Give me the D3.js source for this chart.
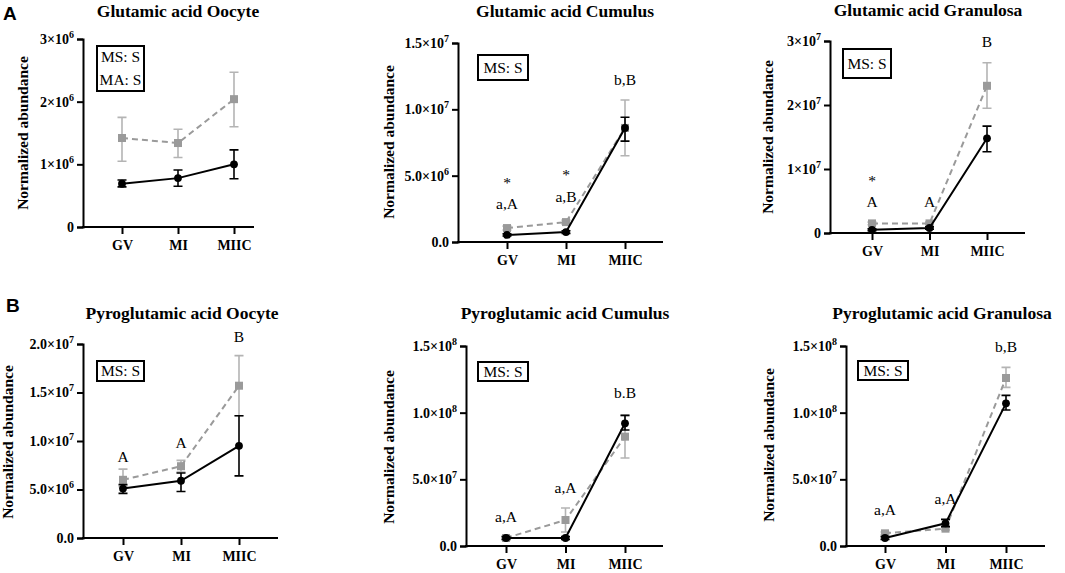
<!DOCTYPE html>
<html lang="en">
<head>
<meta charset="UTF-8">
<title>Glutamic and pyroglutamic acid abundance</title>
<script src="https://d3js.org/d3.v7.min.js"></script>
<style>
    body { margin: 0; background: #fff; }
    svg text { font-family: "Liberation Serif", "DejaVu Serif", serif; fill: #000; }
    .title { font-size: 17.5px; font-weight: bold; text-anchor: middle; }
    .tick text { font-size: 14px; font-weight: bold; }
    .ylab { font-size: 15.5px; font-weight: bold; text-anchor: middle; }
    .note { font-size: 15.5px; text-anchor: middle; }
    .legend-text { font-size: 15.5px; text-anchor: middle; }
    svg text.letter { font-family: "Liberation Sans", Arial, sans-serif; font-size: 19px; font-weight: bold; }
</style>
</head>
<body>
<svg id="svg" width="1065" height="573"></svg>
<script>
    const stages = ["GV", "MI", "MIIC"];

    // Glutamic acid Oocyte
    const gluOocyteBlack = [0.69e6, 0.78e6, 1.00e6];
    const gluOocyteBlackErr = [[0.64e6, 0.75e6], [0.65e6, 0.91e6], [0.77e6, 1.23e6]];
    const gluOocyteGray = [1.42e6, 1.34e6, 2.04e6];
    const gluOocyteGrayErr = [[1.05e6, 1.75e6], [1.11e6, 1.56e6], [1.60e6, 2.47e6]];
    const gluOocyteTicks = [0, 1e6, 2e6, 3e6];
    const gluOocyteTickLabels = ["0", "1×10^6", "2×10^6", "3×10^6"];
    const gluOocyteNotes = [];
    const gluOocyteLegend = ["MS: S", "MA: S"];

    // Glutamic acid Cumulus
    const gluCumulusBlack = [0.53e6, 0.75e6, 8.6e6];
    const gluCumulusBlackErr = [[0.45e6, 0.61e6], [0.65e6, 0.85e6], [7.6e6, 9.4e6]];
    const gluCumulusGray = [1.05e6, 1.5e6, 8.6e6];
    const gluCumulusGrayErr = [[0.9e6, 1.2e6], [1.35e6, 1.65e6], [6.5e6, 10.7e6]];
    const gluCumulusTicks = [0, 5e6, 1e7, 1.5e7];
    const gluCumulusTickLabels = ["0.0", "5.0×10^6", "1.0×10^7", "1.5×10^7"];
    const gluCumulusNotes = [["GV", 4.67e6, "*"], ["GV", 2.86e6, "a,A"], ["MI", 5.28e6, "*"], ["MI", 3.39e6, "a,B"], ["MIIC", 12.2e6, "b,B"]];
    const gluCumulusLegend = ["MS: S"];

    // Glutamic acid Granulosa
    const gluGranulosaBlack = [0.5e6, 0.78e6, 1.48e7];
    const gluGranulosaBlackErr = [[0.35e6, 0.65e6], [0.6e6, 0.95e6], [1.27e7, 1.67e7]];
    const gluGranulosaGray = [1.5e6, 1.5e6, 2.3e7];
    const gluGranulosaGrayErr = [[1.3e6, 1.7e6], [1.3e6, 1.7e6], [1.95e7, 2.66e7]];
    const gluGranulosaTicks = [0, 1e7, 2e7, 3e7];
    const gluGranulosaTickLabels = ["0", "1×10^7", "2×10^7", "3×10^7"];
    const gluGranulosaNotes = [["GV", 8.6e6, "*"], ["GV", 4.84e6, "A"], ["MI", 4.84e6, "A"], ["MIIC", 2.98e7, "B"]];
    const gluGranulosaLegend = ["MS: S"];

    // Pyroglutamic acid Oocyte
    const pyroOocyteBlack = [5.1e6, 5.9e6, 9.5e6];
    const pyroOocyteBlackErr = [[4.6e6, 5.5e6], [4.8e6, 6.7e6], [6.4e6, 12.6e6]];
    const pyroOocyteGray = [6.0e6, 7.4e6, 15.7e6];
    const pyroOocyteGrayErr = [[5.3e6, 7.1e6], [6.8e6, 8.0e6], [12.6e6, 18.8e6]];
    const pyroOocyteTicks = [0, 5e6, 1e7, 1.5e7, 2e7];
    const pyroOocyteTickLabels = ["0.0", "5.0×10^6", "1.0×10^7", "1.5×10^7", "2.0×10^7"];
    const pyroOocyteNotes = [["GV", 8.35e6, "A"], ["MI", 9.8e6, "A"], ["MIIC", 2.07e7, "B"]];
    const pyroOocyteLegend = ["MS: S"];

    // Pyroglutamic acid Cumulus
    const pyroCumulusBlack = [6e6, 6e6, 9.2e7];
    const pyroCumulusBlackErr = [[5e6, 7e6], [5e6, 7e6], [8.7e7, 9.8e7]];
    const pyroCumulusGray = [6e6, 1.95e7, 8.2e7];
    const pyroCumulusGrayErr = [[5e6, 7e6], [1.05e7, 2.85e7], [6.6e7, 9.8e7]];
    const pyroCumulusTicks = [0, 5e7, 1e8, 1.5e8];
    const pyroCumulusTickLabels = ["0.0", "5.0×10^7", "1.0×10^8", "1.5×10^8"];
    const pyroCumulusNotes = [["GV", 2.18e7, "a,A"], ["MI", 4.36e7, "a,A"], ["MIIC", 1.15e8, "b.B"]];
    const pyroCumulusLegend = ["MS: S"];

    // Pyroglutamic acid Granulosa
    const pyroGranulosaBlack = [6e6, 1.7e7, 1.07e8];
    const pyroGranulosaBlackErr = [[5e6, 7e6], [1.45e7, 2.0e7], [1.02e8, 1.13e8]];
    const pyroGranulosaGray = [9.5e6, 1.3e7, 1.26e8];
    const pyroGranulosaGrayErr = [[8.5e6, 1.05e7], [1.2e7, 1.4e7], [1.19e8, 1.34e8]];
    const pyroGranulosaTicks = [0, 5e7, 1e8, 1.5e8];
    const pyroGranulosaTickLabels = ["0.0", "5.0×10^7", "1.0×10^8", "1.5×10^8"];
    const pyroGranulosaNotes = [["GV", 2.7e7, "a,A"], ["MI", 3.53e7, "a,A"], ["MIIC", 1.49e8, "b,B"]];
    const pyroGranulosaLegend = ["MS: S"];

    // panel frames (pixels): axis left/right, y at 0 and at top tick, first/last stage x
    const panels = [
        { title: "Glutamic acid Oocyte", black: gluOocyteBlack, blackErr: gluOocyteBlackErr, gray: gluOocyteGray, grayErr: gluOocyteGrayErr,
          ticks: gluOocyteTicks, labels: gluOocyteTickLabels, notes: gluOocyteNotes, legend: gluOocyteLegend,
          left: 83, right: 254, y0: 227, yTop: 39, xFirst: 122, xLast: 234, titleX: 178, titleY: 17,
          labX: 23, labY: 133, box: [97, 46, 47, 45] },
        { title: "Glutamic acid Cumulus", black: gluCumulusBlack, blackErr: gluCumulusBlackErr, gray: gluCumulusGray, grayErr: gluCumulusGrayErr,
          ticks: gluCumulusTicks, labels: gluCumulusTickLabels, notes: gluCumulusNotes, legend: gluCumulusLegend,
          left: 458, right: 663, y0: 242, yTop: 43, xFirst: 507, xLast: 625, titleX: 565, titleY: 17,
          labX: 389, labY: 142, box: [478, 55, 50, 25] },
        { title: "Glutamic acid Granulosa", black: gluGranulosaBlack, blackErr: gluGranulosaBlackErr, gray: gluGranulosaGray, grayErr: gluGranulosaGrayErr,
          ticks: gluGranulosaTicks, labels: gluGranulosaTickLabels, notes: gluGranulosaNotes, legend: gluGranulosaLegend,
          left: 830, right: 1025, y0: 233, yTop: 41, xFirst: 872, xLast: 987, titleX: 928, titleY: 16,
          labX: 768, labY: 137, box: [843, 49, 48, 29] },
        { title: "Pyroglutamic acid Oocyte", black: pyroOocyteBlack, blackErr: pyroOocyteBlackErr, gray: pyroOocyteGray, grayErr: pyroOocyteGrayErr,
          ticks: pyroOocyteTicks, labels: pyroOocyteTickLabels, notes: pyroOocyteNotes, legend: pyroOocyteLegend,
          left: 83, right: 278, y0: 538, yTop: 344, xFirst: 123, xLast: 239, titleX: 182, titleY: 319,
          labX: 8, labY: 442, box: [97, 361, 47, 20] },
        { title: "Pyroglutamic acid Cumulus", black: pyroCumulusBlack, blackErr: pyroCumulusBlackErr, gray: pyroCumulusGray, grayErr: pyroCumulusGrayErr,
          ticks: pyroCumulusTicks, labels: pyroCumulusTickLabels, notes: pyroCumulusNotes, legend: pyroCumulusLegend,
          left: 466, right: 663, y0: 546, yTop: 346, xFirst: 506, xLast: 625, titleX: 565, titleY: 319,
          labX: 389, labY: 447, box: [478, 362, 50, 19] },
        { title: "Pyroglutamic acid Granulosa", black: pyroGranulosaBlack, blackErr: pyroGranulosaBlackErr, gray: pyroGranulosaGray, grayErr: pyroGranulosaGrayErr,
          ticks: pyroGranulosaTicks, labels: pyroGranulosaTickLabels, notes: pyroGranulosaNotes, legend: pyroGranulosaLegend,
          left: 846, right: 1045, y0: 546, yTop: 346, xFirst: 885, xLast: 1006, titleX: 942, titleY: 319,
          labX: 769, labY: 445, box: [858, 361, 50, 19] }
    ];

    const grayColor = "#9a9a9a";
    const grayErrColor = "#b4b4b4";

    const svg = d3.select("#svg");

    svg.append("text").attr("class", "letter").attr("x", 3).attr("y", 20).text("A");
    svg.append("text").attr("class", "letter").attr("x", 6).attr("y", 312).text("B");

    // write "1×10^6" as text with a superscript
    const setSuper = (sel, labels) => {
        sel.each(function (d, i) {
            const t = d3.select(this);
            const parts = labels[i].split("^");
            t.text(null);
            t.append("tspan").text(parts[0]);
            if (parts[1]) t.append("tspan").attr("dy", -6).attr("font-size", "10px").text(parts[1]);
        });
    };

    panels.forEach(p => {
        const g = svg.append("g");
        const x = d3.scalePoint().domain(stages).range([p.xFirst, p.xLast]);
        const y = d3.scaleLinear().domain([0, d3.max(p.ticks)]).range([p.y0, p.yTop]);

        // y axis
        const yAxis = g.append("g")
            .attr("transform", `translate(${p.left},0)`)
            .call(d3.axisLeft(y).tickValues(p.ticks).tickSizeOuter(0).tickSize(6).tickPadding(3)
                .tickFormat((d, i) => p.labels[i]));
        yAxis.selectAll(".tick text").call(setSuper, p.labels);

        // x axis (domain drawn separately to span the full frame)
        const xAxis = g.append("g")
            .attr("transform", `translate(0,${p.y0})`)
            .call(d3.axisBottom(x).tickSize(7).tickPadding(6));
        xAxis.select(".domain").remove();
        xAxis.append("line")
            .attr("x1", p.left - 1).attr("x2", p.right)
            .attr("stroke", "#000").attr("stroke-width", 2);

        g.selectAll(".domain, .tick line").attr("stroke", "#000").attr("stroke-width", 2);
        g.selectAll(".tick text").attr("font-family", null).attr("font-size", null);

        // titles
        g.append("text").attr("class", "title").attr("x", p.titleX).attr("y", p.titleY).text(p.title);
        g.append("text").attr("class", "ylab")
            .attr("transform", `translate(${p.labX + 5},${p.labY}) rotate(-90)`)
            .text("Normalized abundance");

        // legend box
        const [bx, by, bw, bh] = p.box;
        g.append("rect").attr("x", bx).attr("y", by).attr("width", bw).attr("height", bh)
            .attr("fill", "#fff").attr("stroke", "#000").attr("stroke-width", 2);
        p.legend.forEach((s, i) => {
            const lineH = bh / p.legend.length;
            g.append("text").attr("class", "legend-text")
                .attr("x", bx + bw / 2)
                .attr("y", by + lineH * (i + 0.5) + 5)
                .text(s);
        });

        const line = d3.line().x((d, i) => x(stages[i])).y(d => y(d));
        const errPath = (d, i) => {
            const cx = x(stages[i]);
            return `M${cx - 4.5},${y(d[1])}H${cx + 4.5}M${cx},${y(d[1])}V${y(d[0])}M${cx - 4.5},${y(d[0])}H${cx + 4.5}`;
        };

        // gray series (dashed, squares)
        g.selectAll(".gerr")
            .data(p.grayErr)
            .join("path")
            .attr("d", errPath)
            .attr("stroke", grayErrColor).attr("stroke-width", 1.6).attr("fill", "none");
        g.append("path").datum(p.gray)
            .attr("d", line)
            .attr("fill", "none").attr("stroke", grayColor).attr("stroke-width", 2)
            .attr("stroke-dasharray", "6,4");
        g.selectAll(".sq")
            .data(p.gray)
            .join("rect")
            .attr("x", (d, i) => x(stages[i]) - 4)
            .attr("y", d => y(d) - 4)
            .attr("width", 8).attr("height", 8)
            .attr("fill", grayColor);

        // black series (solid, circles)
        g.selectAll(".berr")
            .data(p.blackErr)
            .join("path")
            .attr("d", errPath)
            .attr("stroke", "#000").attr("stroke-width", 1.6).attr("fill", "none");
        g.append("path").datum(p.black)
            .attr("d", line)
            .attr("fill", "none").attr("stroke", "#000").attr("stroke-width", 2);
        g.selectAll(".dot")
            .data(p.black)
            .join("circle")
            .attr("cx", (d, i) => x(stages[i]))
            .attr("cy", d => y(d))
            .attr("r", 3.9)
            .attr("fill", "#000");

        // significance letters ("*" forced to text presentation)
        g.selectAll(".note")
            .data(p.notes)
            .join("text")
            .attr("class", "note")
            .attr("x", d => x(d[0]))
            .attr("y", d => y(d[1]) + (d[2] === "*" ? 8 : 5))
            .text(d => d[2] === "*" ? "*\uFE0E" : d[2]);
    });
</script>
</body>
</html>
